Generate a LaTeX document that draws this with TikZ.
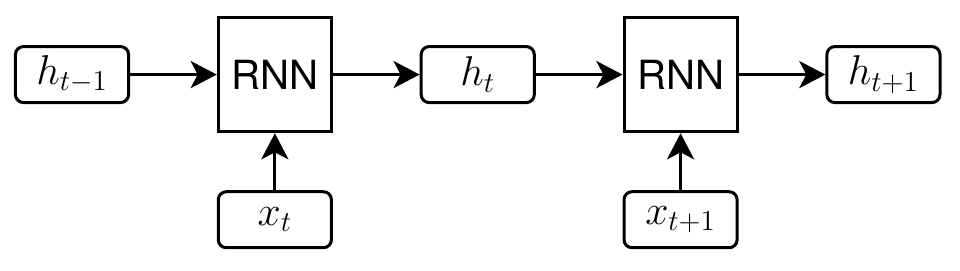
\documentclass[tikz,border=0pt]{standalone}
\usepackage{amsmath,amssymb}
\usepackage{fontspec}
\setsansfont{TeX Gyre Heros}
\usepackage{tikz}
\usetikzlibrary{arrows.meta, positioning}

\begin{document}
\begin{tikzpicture}[
    state/.style={draw, line width=1.5pt, rounded corners=4pt, minimum width=1.98cm, minimum height=0.98cm,
                  inner sep=0pt, font=\fontsize{22}{26}\selectfont},
    cell/.style={draw, line width=1.5pt, minimum width=1.98cm, minimum height=2.0cm,
                 inner sep=0pt, font=\sffamily\fontsize{20}{24}\selectfont},
    arr/.style={line width=1.5pt, -{Stealth[length=13pt, width=13.5pt, inset=3.5pt]}}
]
\useasboundingbox (0,0) rectangle (16.8,4.725);

\node[state] (hprev) at (1.26,3.42) {$h_{t-1}$};
\node[cell]  (rnna)  at (4.81,3.42) {RNN};
\node[state] (hcur)  at (8.36,3.42) {$h_t$};
\node[cell]  (rnnb)  at (11.91,3.42) {RNN};
\node[state] (hnext) at (15.46,3.42) {$h_{t+1}$};

\node[state] (xcur)  at (4.81,0.88) {$x_t$};
\node[state] (xnext) at (11.91,0.88) {$x_{t+1}$};

\draw[arr] (hprev) -- (rnna);
\draw[arr] (rnna) -- (hcur);
\draw[arr] (hcur) -- (rnnb);
\draw[arr] (rnnb) -- (hnext);
\draw[arr] (xcur) -- (rnna);
\draw[arr] (xnext) -- (rnnb);
\end{tikzpicture}
\end{document}
